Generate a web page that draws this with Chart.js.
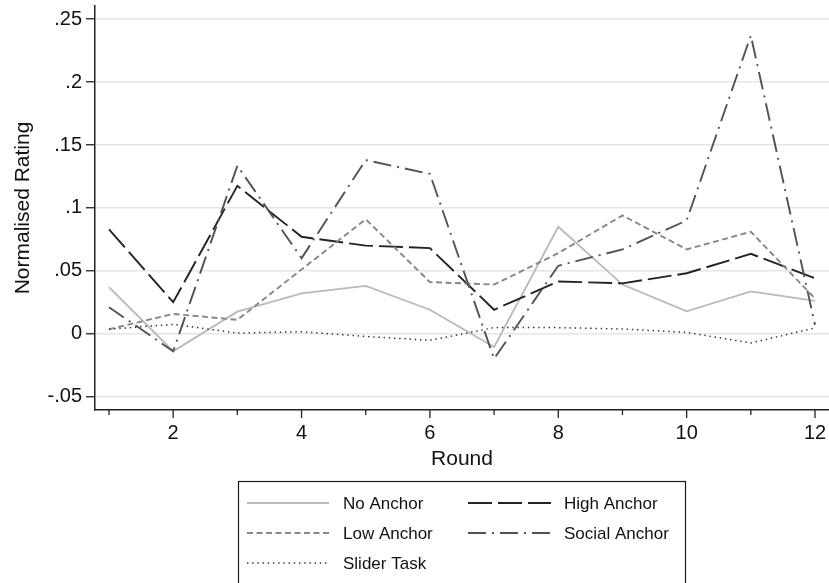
<!DOCTYPE html>
<html>
<head>
<meta charset="utf-8">
<title>Normalised Rating by Round</title>
<script src="https://cdn.jsdelivr.net/npm/chart.js@4/dist/chart.umd.min.js"></script>
<style>
  html, body { margin: 0; padding: 0; background: #ffffff; }
  #wrap { width: 829px; height: 583px; }
  canvas { display: block; }
</style>
</head>
<body>
<div id="wrap"><canvas id="chart" width="829" height="583"></canvas></div>
<script>
// Rounds of the experiment
const rounds = [1, 2, 3, 4, 5, 6, 7, 8, 9, 10, 11, 12];
const xTickLabels = ['', '2', '', '4', '', '6', '', '8', '', '10', '', '12'];

// Mean normalised rating per round, by treatment
const noAnchor     = [0.037, -0.014, 0.0175, 0.032, 0.038, 0.019, -0.0106, 0.085, 0.039, 0.0177, 0.0336, 0.026];
const highAnchor   = [0.083, 0.025, 0.1175, 0.077, 0.070, 0.068, 0.019, 0.0415, 0.040, 0.048, 0.0635, 0.044];
const lowAnchor    = [0.0035, 0.0157, 0.011, 0.051, 0.091, 0.041, 0.039, 0.064, 0.094, 0.067, 0.081, 0.028];
const socialAnchor = [0.021, -0.014, 0.1335, 0.060, 0.138, 0.127, -0.020, 0.054, 0.067, 0.090, 0.237, 0.007];
const sliderTask   = [0.0035, 0.0074, 0.0005, 0.0015, -0.0022, -0.0053, 0.0048, 0.0048, 0.0037, 0.001, -0.0074, 0.0045];

// Y axis ticks
const yTickValues = [-0.05, 0, 0.05, 0.1, 0.15, 0.2, 0.25];
const yTickLabels = ['-.05', '0', '.05', '.1', '.15', '.2', '.25'];

const seriesNames = ['No Anchor', 'High Anchor', 'Low Anchor', 'Social Anchor', 'Slider Task'];

const pts = (vals) => rounds.map((r, i) => ({ x: r, y: vals[i] }));

Chart.defaults.font.family = '"Liberation Sans", Arial, Helvetica, sans-serif';
Chart.defaults.color = '#111111';

// Tick marks under the x axis: long at labelled rounds, short in between
const xTickMarks = {
  id: 'xTickMarks',
  afterDraw(chart) {
    const s = chart.scales.x;
    const ctx = chart.ctx;
    ctx.save();
    ctx.strokeStyle = '#222222';
    ctx.lineWidth = 1.3;
    s.ticks.forEach((t, i) => {
      const px = s.getPixelForValue(t.value);
      const len = xTickLabels[i] ? 8 : 5;
      ctx.beginPath();
      ctx.moveTo(px, s.top);
      ctx.lineTo(px, s.top + len);
      ctx.stroke();
    });
    ctx.restore();
  }
};

// Boxed two-column key below the plot
const boxedLegend = {
  id: 'boxedLegend',
  afterDraw(chart) {
    const ctx = chart.ctx;
    const box = { x: 238.5, y: 481.5, w: 447, h: 130 };
    const cols = [{ lx: 247, lw: 82, tx: 343 }, { lx: 468, lw: 83, tx: 564 }];
    const rowY = [503, 533, 563];
    ctx.save();
    ctx.strokeStyle = '#1a1a1a';
    ctx.lineWidth = 1.2;
    ctx.strokeRect(box.x, box.y, box.w, box.h);
    ctx.font = '17px "Liberation Sans", Arial, Helvetica, sans-serif';
    ctx.textBaseline = 'middle';
    ctx.fillStyle = '#111111';
    chart.data.datasets.forEach((ds, i) => {
      const c = cols[i % 2];
      const y = rowY[Math.floor(i / 2)];
      ctx.save();
      ctx.strokeStyle = ds.borderColor;
      ctx.lineWidth = ds.borderWidth;
      ctx.setLineDash(ds.borderDash || []);
      ctx.lineCap = 'butt';
      ctx.beginPath();
      ctx.moveTo(c.lx, y);
      ctx.lineTo(c.lx + c.lw, y);
      ctx.stroke();
      ctx.restore();
      ctx.fillText(ds.label, c.tx, y + 1);
    });
    ctx.restore();
  }
};

new Chart(document.getElementById('chart'), {
  type: 'line',
  data: {
    datasets: [
      { label: seriesNames[0], data: pts(noAnchor), borderColor: '#b9b9b9', borderWidth: 1.8, borderDash: [], order: 5 },
      { label: seriesNames[1], data: pts(highAnchor), borderColor: '#232323', borderWidth: 1.9, borderDash: [24, 6], order: 4 },
      { label: seriesNames[2], data: pts(lowAnchor), borderColor: '#878787', borderWidth: 1.9, borderDash: [6, 3.5], order: 3 },
      { label: seriesNames[3], data: pts(socialAnchor), borderColor: '#525252', borderWidth: 1.9, borderDash: [18, 6, 2, 6], order: 2 },
      { label: seriesNames[4], data: pts(sliderTask), borderColor: '#333333', borderWidth: 1.5, borderDash: [1.4, 3.8], order: 1 }
    ]
  },
  options: {
    responsive: false,
    animation: false,
    devicePixelRatio: 1,
    layout: { padding: { left: 0, right: 0, top: 6, bottom: 108 } },
    elements: {
      point: { radius: 0, hoverRadius: 0 },
      line: { tension: 0, fill: false, borderCapStyle: 'butt', borderJoinStyle: 'miter' }
    },
    plugins: {
      legend: { display: false },
      tooltip: { enabled: false },
      title: { display: false }
    },
    scales: {
      x: {
        type: 'linear',
        min: 0.782,
        max: 12.218,
        afterBuildTicks: (s) => { s.ticks = rounds.map(v => ({ value: v })); },
        afterFit: (s) => { s.height = 65; s.paddingLeft = 0; s.paddingRight = 0; },
        grid: { display: false, drawTicks: false },
        border: { display: true, color: '#222222', width: 1.5 },
        ticks: {
          autoSkip: false,
          maxRotation: 0,
          padding: 11,
          font: { size: 20 },
          color: '#111111',
          callback: (v, i) => xTickLabels[i]
        },
        title: {
          display: true,
          text: 'Round',
          font: { size: 21 },
          color: '#111111',
          padding: { top: 0, bottom: 3.4 }
        }
      },
      y: {
        type: 'linear',
        min: -0.0607,
        max: 0.2605,
        afterBuildTicks: (s) => { s.ticks = yTickValues.map(v => ({ value: v })); },
        afterFit: (s) => { s.width = 95; s.paddingTop = 0; s.paddingBottom = 0; },
        grid: {
          display: true,
          color: '#e6e6e6',
          lineWidth: 1.5,
          drawTicks: true,
          tickLength: 9,
          tickColor: '#222222',
          tickWidth: 1.3
        },
        border: { display: true, color: '#222222', width: 1.5 },
        ticks: {
          padding: 4,
          font: { size: 20 },
          color: '#111111',
          callback: (v, i) => yTickLabels[i]
        },
        title: {
          display: true,
          text: 'Normalised Rating',
          font: { size: 21 },
          color: '#111111',
          padding: { top: 10.4, bottom: 0 }
        }
      }
    }
  },
  plugins: [xTickMarks, boxedLegend]
});
</script>
</body>
</html>
